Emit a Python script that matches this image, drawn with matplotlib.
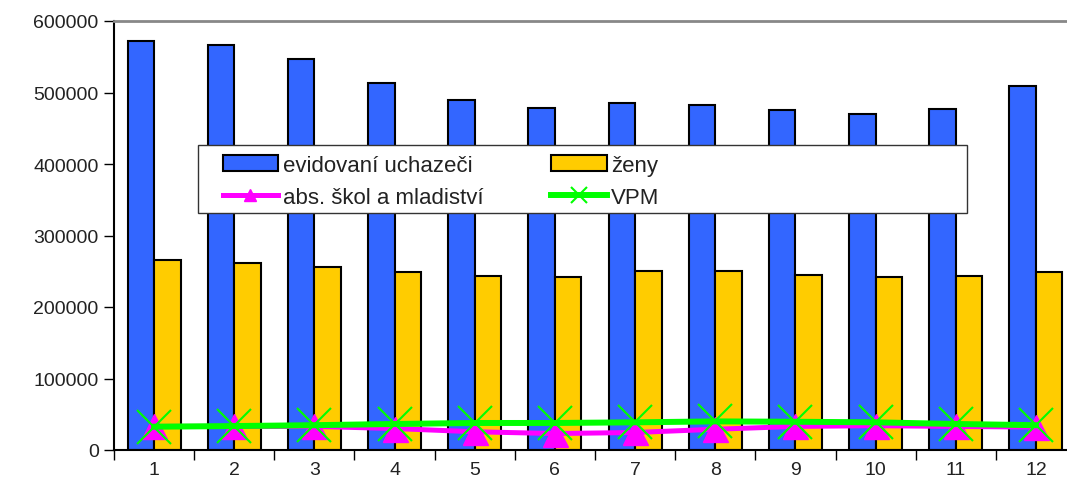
import matplotlib
matplotlib.use("Agg")
import matplotlib.pyplot as plt
from matplotlib.patches import Rectangle
import numpy as np

months = ["1", "2", "3", "4", "5", "6", "7", "8", "9", "10", "11", "12"]
evidovani = [572000, 566400, 546800, 513300, 489500, 478300, 485300, 482500, 475500, 469900, 476900, 509100]
zeny = [265700, 261500, 255900, 248900, 243400, 242000, 250300, 250300, 244800, 242000, 243400, 248900]
absolventi = [33000, 33000, 33000, 30000, 25500, 23000, 24500, 29000, 33000, 34000, 33000, 32000]
vpm = [32600, 33500, 34700, 36400, 37800, 37800, 38700, 40000, 39500, 38700, 36400, 34700]
yticks = [0, 100000, 200000, 300000, 400000, 500000, 600000]

plt.rcParams['font.family'] = ['Liberation Sans', 'DejaVu Sans']

W, H = 1067, 481
fig = plt.figure(figsize=(W/100, H/100), dpi=100)
x0, x1, yb, yt = 114, 1076, 451, 22
ax = fig.add_axes([x0/W, (H-yb)/H, (x1-x0)/W, (yb-yt)/H])

x = np.arange(len(months))
w = 0.33
ax.bar(x - w/2, evidovani, width=w, color='#3366FF', edgecolor='black', linewidth=1.5,
       label='evidovaní uchazeči', zorder=2)
ax.bar(x + w/2, zeny, width=w, color='#FFCC00', edgecolor='black', linewidth=1.5,
       label='ženy', zorder=2)
ax.plot(x, absolventi, color='#FF00FF', linewidth=3.6, marker='^', markersize=18,
        label='abs. škol a mladiství', zorder=3)
ax.plot(x, vpm, color='#00FF00', linewidth=4.3, marker='x', markersize=25, markeredgewidth=1.5,
        label='VPM', zorder=4)

ax.set_xlim(-0.5, len(months) - 0.5)
ax.set_ylim(0, 600000)
ax.set_yticks(yticks)
ax.set_yticklabels([str(v) for v in yticks], fontsize=14, color='#222222')
ax.set_xticks(x)
ax.set_xticklabels(months, fontsize=14, color='#222222')
ax.tick_params(axis='x', which='major', length=0, pad=8)
ax.set_xticks(np.arange(len(months) + 1) - 0.5, minor=True)
ax.tick_params(axis='x', which='minor', length=7, width=1, direction='out')
ax.tick_params(axis='y', length=7, width=1, direction='out', pad=4)

ax.spines['top'].set_color('#888888')
ax.spines['top'].set_linewidth(2)
ax.spines['right'].set_visible(False)
ax.spines['left'].set_linewidth(1.5)
ax.spines['bottom'].set_linewidth(1.5)

# legend frame (wide box like the reference)
lx0, lx1, ly0, ly1 = 198, 967, 146, 214
frame = Rectangle((lx0/W, (H-ly1)/H), (lx1-lx0)/W, (ly1-ly0)/H, transform=fig.transFigure,
                  facecolor='white', edgecolor='#333333', linewidth=1, zorder=9)
fig.patches.append(frame)

handles, labels = ax.get_legend_handles_labels()
hmap = dict(zip(labels, handles))
col_order = ['evidovaní uchazeči', 'abs. škol a mladiství', 'ženy', 'VPM']
leg = fig.legend([hmap[l] for l in col_order], col_order, ncol=2, fontsize=16,
                 loc='upper left', bbox_to_anchor=(206/W, (H-139)/H),
                 frameon=False, markerscale=0.45,
                 handlelength=2.5, handletextpad=0.2, columnspacing=3.05,
                 borderpad=0.25, labelspacing=0.5)
leg.set_zorder(10)
for t in leg.get_texts():
    t.set_color('#222222')

fig.savefig('out.png', dpi=100)
